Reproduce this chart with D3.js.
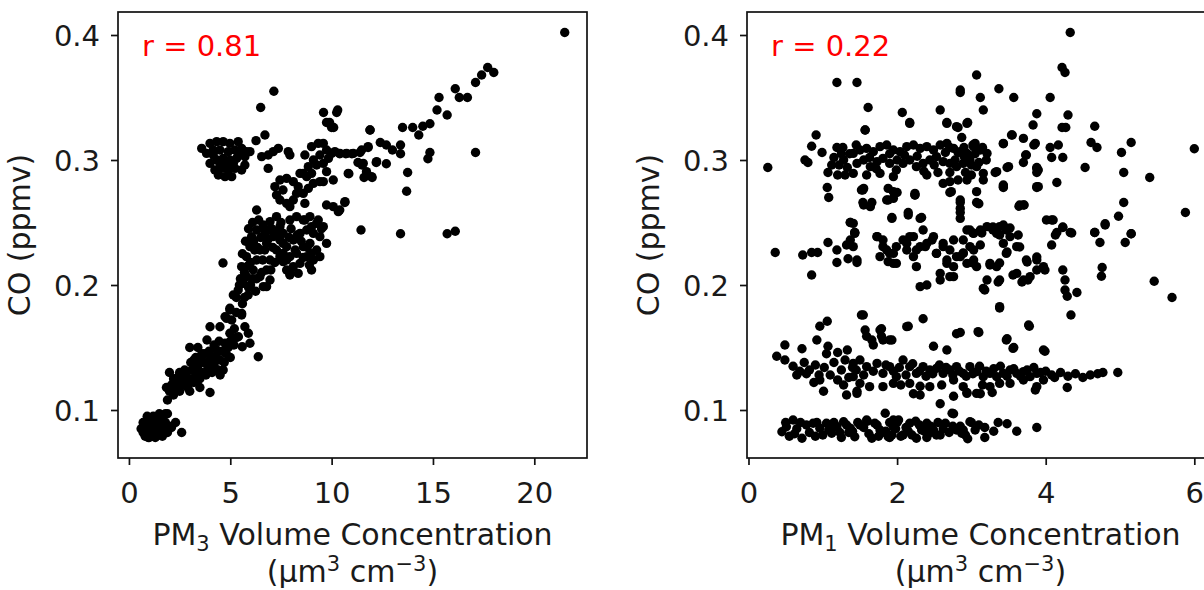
<!DOCTYPE html>
<html><head><meta charset="utf-8">
<script src="https://cdn.jsdelivr.net/npm/d3@7"></script>
<style>
html,body{margin:0;padding:0;background:#fff;}
svg{display:block;font-family:"DejaVu Sans",sans-serif;}
</style></head>
<body><svg id="c" width="1204" height="590"></svg>
<script>
// ---- data ----
const yTicks = [0.1, 0.2, 0.3, 0.4];
const xTicksLeft = [0, 5, 10, 15, 20];
const xTicksRight = [0, 2, 4, 6];
const rLabels = ["r = 0.81", "r = 0.22"];
const yTitle = "CO (ppmv)";
const xTitleLeft = ["PM", "3", " Volume Concentration"];
const xTitleRight = ["PM", "1", " Volume Concentration"];

// [PM3 volume, CO]
const leftPoints = [
[0.6,0.085],[0.7,0.082],[0.75,0.088],[0.8,0.079],[0.85,0.084],[0.9,0.09],[0.95,0.078],[1.0,0.086],[1.05,0.081],[1.1,0.092],[1.15,0.08],[1.2,0.087],[1.25,0.083],[1.3,0.078],[1.35,0.09],[1.4,0.085],[1.45,0.08],[1.5,0.094],[1.55,0.082],[1.6,0.088],[1.65,0.079],[1.7,0.096],[1.75,0.084],[1.8,0.09],[1.9,0.082],[2.0,0.087],[0.9,0.095],[1.2,0.095],[1.0,0.078],[0.7,0.09],[1.3,0.081],[1.6,0.083],[2.1,0.086],[2.3,0.09],[2.6,0.082],[1.8,0.097],[1.5,0.097],[1.9,0.097],
[1.9,0.108],[2.0,0.115],[2.1,0.12],[2.2,0.112],[2.3,0.118],[2.4,0.122],[2.5,0.115],[2.6,0.125],[2.7,0.12],[2.8,0.128],[2.9,0.118],[3.0,0.125],[3.1,0.132],[3.2,0.122],[3.3,0.128],[3.4,0.135],[3.5,0.125],[3.6,0.13],[3.7,0.138],[3.8,0.128],[3.9,0.134],[4.0,0.14],[4.1,0.13],[4.2,0.136],[4.3,0.143],[4.4,0.132],[4.5,0.14],[4.6,0.147],[4.7,0.138],[4.8,0.145],[4.9,0.15],[5.0,0.142],[3.0,0.115],[3.5,0.118],[4.0,0.114],[4.5,0.128],[2.5,0.13],[3.2,0.14],[3.6,0.145],[2.0,0.13],[3.0,0.15],[3.4,0.15],[3.85,0.156],
[2.2,0.125],[2.45,0.127],[2.75,0.132],[3.05,0.138],[3.3,0.142],[3.55,0.138],[3.75,0.145],[3.95,0.147],[4.2,0.152],[4.45,0.155],[2.85,0.122],[3.45,0.129],[4.15,0.142],[4.65,0.132],[1.85,0.118],
[4.0,0.1666],[4.49,0.1666],[4.74,0.1746],[4.98,0.1814],[5.07,0.172],[5.4,0.1586],[5.56,0.176],[5.72,0.1666],[5.89,0.1614],[5.97,0.1534],[6.38,0.1426],[4.98,0.1614],[4.74,0.1534],[4.33,0.148],[5.18,0.152],[5.59,0.1506],
[5.2,0.165],[5.3,0.178],[5.6,0.185],[5.3,0.158],[5.0,0.155],
[5.39,0.196],[5.64,0.2013],[5.8,0.2067],[5.56,0.2147],[5.8,0.2227],[5.97,0.2307],[6.05,0.2387],[6.3,0.244],[6.63,0.248],[6.96,0.2507],[7.28,0.2547],[7.45,0.2467],[7.12,0.2387],[6.79,0.2333],[6.46,0.228],[6.3,0.22],[6.13,0.212],[6.46,0.2067],[6.79,0.212],[6.96,0.22],[7.28,0.228],[7.45,0.236],[7.61,0.2413],[6.96,0.204],[6.63,0.1987],[5.88,0.192],[5.15,0.192],[4.98,0.18],[5.56,0.1773],[4.82,0.1733],[7.61,0.2333],[7.78,0.22],[7.94,0.2093],[7.61,0.2253],[6.79,0.1987],[4.64,0.2176],
[5.7,0.21],[6.0,0.2],[6.2,0.228],[6.5,0.238],[6.0,0.218],[6.3,0.205],[5.9,0.198],[6.6,0.22],[6.9,0.244],[7.1,0.23],[5.5,0.205],[5.3,0.19],[6.7,0.24],[7.0,0.212],
[5.6,0.225],[5.75,0.235],[5.9,0.245],[6.1,0.25],[6.4,0.252],[6.15,0.235],[6.35,0.23],[5.85,0.215],[6.1,0.205],[6.25,0.195],[5.45,0.2],[5.7,0.19],[6.55,0.21],[6.7,0.228],[6.85,0.236],[7.05,0.245],[7.2,0.218],[7.35,0.242],[6.6,0.245],[7.5,0.25],
[7.94,0.252],[8.27,0.2547],[8.6,0.252],[8.93,0.2547],[9.26,0.2493],[9.59,0.2467],[9.75,0.2333],[9.42,0.2387],[9.1,0.2413],[8.77,0.244],[8.44,0.2413],[8.11,0.236],[7.78,0.2307],[7.94,0.2227],[8.27,0.2253],[8.6,0.2307],[8.93,0.2333],[9.26,0.228],[9.42,0.2227],[9.1,0.22],[8.77,0.2227],[8.44,0.2173],[8.11,0.2147],[7.78,0.212],[7.94,0.208],[7.61,0.2187],[7.45,0.2227],[9.01,0.212],[8.35,0.2093],[8.68,0.252],[9.34,0.252],[9.01,0.2467],
[8.0,0.245],[8.3,0.24],[8.5,0.235],[8.8,0.23],[9.0,0.225],[9.5,0.245],[8.2,0.228],[8.6,0.222],[8.9,0.216],[7.9,0.238],
[7.2,0.2787],[7.45,0.284],[7.78,0.2853],[8.11,0.2827],[8.35,0.2787],[8.27,0.2733],[8.11,0.268],[7.78,0.2653],[7.45,0.268],[7.28,0.272],[8.6,0.2733],[8.85,0.2773],[9.1,0.2813],[8.77,0.2867],[8.44,0.2893],[7.94,0.2627],[8.68,0.2653],[9.42,0.2827],[6.3,0.26],[7.6,0.276],
[8.68,0.304],[9.01,0.3107],[9.34,0.3133],[9.59,0.3133],[9.75,0.308],[9.42,0.304],[9.1,0.3],[8.85,0.2947],[8.6,0.2893],[9.01,0.2893],[9.26,0.296],[9.59,0.2973],[9.84,0.3013],[10.0,0.3053],[10.16,0.3067],[10.41,0.3053],[10.74,0.3053],[11.07,0.3053],[9.75,0.2907],[9.59,0.2827],[10.08,0.284],
[11.89,0.324],[11.48,0.308],[11.8,0.3107],[12.22,0.2987],[11.56,0.2973],[11.72,0.2907],[11.97,0.2867],[10.82,0.2893],
[9.75,0.264],[10.08,0.2627],[10.33,0.2587],[10.66,0.2667],
[9.75,0.33],[10.0,0.326],[10.25,0.338],[7.15,0.355],[6.5,0.342],[9.6,0.338],[10.3,0.34],[9.9,0.33],[10.1,0.326],
[3.59,0.3093],[4.0,0.3133],[4.33,0.3147],[4.65,0.3147],[4.98,0.3133],[5.39,0.3147],[5.8,0.3067],[5.56,0.3093],[5.23,0.308],[4.9,0.3067],[4.49,0.308],[4.16,0.308],[4.0,0.2973],[4.33,0.3],[4.65,0.3013],[4.98,0.3],[5.31,0.3013],[5.72,0.296],[5.56,0.292],[5.23,0.2933],[4.9,0.292],[4.57,0.2933],[4.24,0.292],[4.41,0.288],[4.74,0.2867],[5.07,0.2867],[4.49,0.2973],[4.82,0.296],[5.15,0.2973],[4.16,0.304],[3.83,0.3053],[5.39,0.3053],[5.72,0.3027],[5.97,0.3067],
[6.27,0.3155],[6.71,0.32],[6.55,0.3027],[6.87,0.304],[7.12,0.3067],[7.37,0.3093],[6.87,0.2933],[7.86,0.3067],[7.94,0.304],
[21.5,0.402],[17.7,0.374],[17.4,0.368],[18.0,0.37],[17.1,0.362],[16.1,0.357],[16.3,0.35],[16.7,0.35],[15.3,0.35],[15.2,0.34],[15.7,0.336],[13.5,0.326],[14.0,0.326],[14.5,0.327],[14.85,0.329],[14.3,0.32],[11.9,0.324],[12.4,0.314],[12.7,0.312],[13.0,0.308],[13.4,0.312],[13.4,0.305],[11.4,0.306],[11.8,0.31],[10.4,0.305],[10.7,0.305],[11.0,0.305],[14.85,0.306],[14.75,0.301],[17.1,0.306],[11.3,0.298],[11.5,0.296],[11.6,0.286],[12.0,0.286],[12.2,0.298],[12.7,0.297],[10.85,0.289],[13.75,0.29],[13.7,0.275],[10.65,0.266],[10.4,0.26],[11.45,0.244],[13.4,0.241],[15.7,0.241],[16.1,0.243]
];

// [PM1 volume, CO]
const rightPoints = [
[0.45,0.0826],[0.51,0.0866],[0.6,0.092],[0.72,0.0774],[0.78,0.088],[0.87,0.0894],[0.96,0.0854],[1.05,0.0894],[1.12,0.0814],[1.19,0.0866],[1.28,0.0906],[1.37,0.0854],[1.43,0.0786],[1.5,0.088],[1.59,0.092],[1.66,0.0774],[1.7,0.0894],[1.77,0.084],[1.84,0.0974],[1.88,0.0786],[1.95,0.0866],[2.02,0.092],[2.08,0.08],[2.17,0.0894],[2.26,0.0774],[2.33,0.084],[2.4,0.0894],[2.49,0.084],[2.58,0.08],[2.65,0.0894],[2.74,0.0974],[2.8,0.084],[2.87,0.0814],[2.98,0.0906],
[0.55,0.079],[0.65,0.085],[0.82,0.082],[0.92,0.09],[1.0,0.08],[1.08,0.084],[1.15,0.09],[1.23,0.082],[1.32,0.088],[1.4,0.083],[1.47,0.09],[1.55,0.086],[1.62,0.081],[1.73,0.088],[1.8,0.082],[1.9,0.09],[1.93,0.08],[1.98,0.085],[2.05,0.079],[2.12,0.086],[2.2,0.08],[2.3,0.088],[2.37,0.083],[2.45,0.087],[2.53,0.08],[2.62,0.085],[2.7,0.082],[2.85,0.087],[2.92,0.08],[3.05,0.084],[1.85,0.083],[1.9,0.078],[1.95,0.092],[0.7,0.09],[1.25,0.078],[2.4,0.078],
[0.5,0.09],[0.62,0.081],[0.9,0.079],[1.1,0.088],[1.35,0.082],[1.6,0.091],[1.75,0.079],[2.0,0.09],[2.15,0.083],[2.25,0.091],[2.45,0.082],[2.55,0.09],[2.75,0.087],[2.95,0.077],[3.1,0.088],[3.3,0.083],
[2.89,0.084],[3.0,0.09],[3.18,0.086],[3.18,0.078],[3.36,0.09],[3.48,0.089],[3.61,0.083],[3.88,0.086],
[0.38,0.143],[0.49,0.14],[0.49,0.152],[0.72,0.149],[0.96,0.167],[1.06,0.171],[0.92,0.156],[1.07,0.151],[0.69,0.131],[0.78,0.129],[0.96,0.124],[1.01,0.115],[1.32,0.112],[1.46,0.115],[1.52,0.176],[1.57,0.164],[1.59,0.159],[1.79,0.165],[1.79,0.159],[1.68,0.152],[1.93,0.156],[2.15,0.167],[2.35,0.173],[2.49,0.151],[2.67,0.148],[2.8,0.161],[2.58,0.105],[2.76,0.111],[2.76,0.097],[2.22,0.113],[2.31,0.119],
[1.545,0.176],[1.77,0.164],[1.66,0.156],[1.81,0.156],[1.9,0.156],[2.13,0.1667],[3.09,0.1627],[3.38,0.1827],[3.47,0.156],[3.56,0.1493],[3.77,0.168],[3.97,0.148],
[1.41,0.1373],[1.5,0.14],[1.59,0.1347],[1.73,0.1373],[1.81,0.1293],[1.9,0.1347],[1.99,0.1267],[2.08,0.14],[2.17,0.1347],[2.26,0.1293],[2.35,0.1347],[2.44,0.132],[2.53,0.1333],[2.62,0.1293],[2.71,0.132],[2.8,0.1347],[2.89,0.1293],[2.98,0.1347],[3.07,0.1307],[3.16,0.1267],[3.25,0.1293],[3.34,0.1267],[3.43,0.1293],[3.52,0.132],[3.61,0.1293],[3.7,0.1307],[3.79,0.1267],[3.88,0.1293],[3.97,0.124],
[1.45,0.132],[1.55,0.128],[1.68,0.131],[1.85,0.136],[1.95,0.131],[2.03,0.134],[2.12,0.128],[2.21,0.137],[2.3,0.131],[2.39,0.127],[2.48,0.129],[2.57,0.136],[2.66,0.134],[2.75,0.128],[2.84,0.131],[2.93,0.127],[3.02,0.129],[3.11,0.135],[3.2,0.131],[3.3,0.133],[3.39,0.135],[3.48,0.127],[3.57,0.133],[3.66,0.127],[3.75,0.132],[3.84,0.134],[3.93,0.13],[2.05,0.12],[2.6,0.12],[3.15,0.12],
[1.5,0.1213],[1.63,0.1187],[1.81,0.1187],[1.95,0.1213],[2.17,0.1213],[2.31,0.112],[2.44,0.1187],[2.89,0.1187],[3.07,0.1133],[3.25,0.1187],[3.38,0.1213],[3.52,0.1213],[3.7,0.124],[3.88,0.1187],[1.46,0.1133],[1.41,0.1267],[2.76,0.124],[2.94,0.1133],
[0.75,0.138],[0.82,0.132],[0.9,0.136],[0.95,0.128],[1.02,0.134],[1.1,0.128],[1.15,0.138],[1.2,0.124],[1.25,0.132],[1.3,0.14],[1.35,0.126],[1.4,0.134],[1.28,0.12],[0.88,0.122],[1.05,0.145],[1.2,0.146],[1.33,0.148],[0.6,0.135],[0.65,0.128],
[4.08,0.128],[4.2,0.13],[4.3,0.127],[4.4,0.129],[4.5,0.126],[4.6,0.128],[4.7,0.129],[4.77,0.13],[4.97,0.13],[4.29,0.118],[4.0,0.131],[4.12,0.126],
[2.85,0.162],[3.1,0.162],[3.48,0.157],[3.57,0.15],[3.78,0.167],[3.99,0.147],[2.94,0.114],[3.12,0.113],[3.28,0.114],[3.86,0.116],
[0.36,0.226],[0.73,0.224],[0.85,0.226],[0.93,0.226],[1.07,0.234],[1.19,0.228],[1.32,0.232],[1.37,0.236],[1.43,0.242],[1.37,0.25],[1.19,0.218],[1.34,0.221],[1.46,0.218],[0.85,0.208],
[1.41,0.2493],[1.43,0.2413],[1.41,0.2307],[1.46,0.22],[1.73,0.2387],[1.81,0.2307],[1.77,0.2227],[1.9,0.2253],[1.95,0.2173],[1.99,0.2307],[2.08,0.236],[2.17,0.2387],[2.13,0.228],[2.22,0.2227],[2.26,0.2147],[2.31,0.2307],[2.4,0.2333],[2.35,0.244],[2.49,0.2387],[2.53,0.2253],[2.62,0.2333],[2.71,0.228],[2.67,0.22],[2.76,0.2147],[2.8,0.2227],[2.89,0.2253],[2.89,0.236],[2.98,0.2307],[3.03,0.22],[3.07,0.2147],[2.98,0.244],[3.12,0.244],[3.21,0.2467],[3.29,0.244],[3.38,0.2467],[3.47,0.244],[3.52,0.2387],[3.43,0.2333],[3.34,0.2413],[3.61,0.2307],[3.47,0.2253],[3.25,0.2173],[3.34,0.2147],[3.21,0.204],[3.38,0.204],[3.61,0.2093],[3.7,0.204],[3.79,0.2067],[3.88,0.212],[3.88,0.22],[3.97,0.2147],[3.74,0.22],[2.58,0.2093],[2.58,0.204],[2.71,0.2067],[2.31,0.1987],[2.4,0.2],[3.16,0.1973],[3.7,0.264],[3.65,0.264],[4.01,0.252],
[1.52,0.276],[1.55,0.264],[1.64,0.2627],[1.86,0.268],[1.95,0.2747],[2.24,0.272],[2.15,0.256],[2.31,0.2533],[1.93,0.2533],[2.85,0.268],[2.85,0.2613],[2.85,0.2533],[3.07,0.2747],[3.09,0.2653],[3.43,0.2787],[3.9,0.2787],[3.9,0.292],
[2.94,0.244],[3.02,0.2416],[3.14,0.2416],[3.29,0.2464],[3.43,0.248],[3.52,0.2456],[3.63,0.24],[3.38,0.24],[3.48,0.2264],[3.65,0.2304],[2.89,0.2256],[3.02,0.2176],[3.12,0.232],[3.25,0.216],[3.38,0.2176],[3.56,0.208],[3.68,0.2024],[3.76,0.204],[3.75,0.2184],[3.88,0.2224],[3.99,0.212],[3.36,0.2024],[3.18,0.196],[3.38,0.1816],
[4.08,0.232],[4.13,0.24],[4.23,0.2464],[4.35,0.2416],[4.08,0.252],
[4.23,0.212],[4.26,0.204],[4.26,0.196],[4.29,0.191],[4.42,0.194],[4.34,0.176],[4.66,0.242],[4.73,0.234],[4.8,0.248],[4.76,0.214],[4.75,0.207],[5.07,0.234],[5.15,0.241],[5.46,0.203],[5.7,0.19],
[1.73,0.2387],[1.81,0.236],[1.86,0.228],[1.95,0.2253],[1.99,0.2173],[1.88,0.2187],[2.13,0.2333],[2.22,0.2387],[2.26,0.228],[2.38,0.2307],[2.47,0.236],[2.53,0.2253],[2.62,0.2307],[2.76,0.236],[2.85,0.2227],[2.94,0.2173],[3.03,0.228],[3.03,0.2413],[2.67,0.2173],[2.76,0.2067],
[1.41,0.3053],[1.5,0.308],[1.59,0.3093],[1.68,0.3067],[1.77,0.3107],[1.86,0.312],[1.95,0.308],[2.04,0.3067],[2.13,0.3107],[2.22,0.312],[2.31,0.3093],[2.4,0.3107],[2.49,0.308],[2.58,0.312],[2.67,0.3133],[2.76,0.3093],[2.85,0.3067],[2.94,0.3053],[3.03,0.3107],[3.12,0.308],[3.21,0.3053],
[1.46,0.2973],[1.55,0.3],[1.64,0.2947],[1.73,0.2987],[1.81,0.3013],[1.9,0.2973],[1.99,0.292],[2.08,0.2973],[2.17,0.3],[2.26,0.2947],[2.35,0.2973],[2.44,0.3],[2.53,0.3027],[2.62,0.2987],[2.71,0.2973],[2.8,0.2947],[2.89,0.2973],[2.98,0.3],[3.07,0.2947],[3.16,0.2893],
[1.45,0.312],[1.63,0.302],[1.72,0.293],[1.9,0.305],[2.0,0.3],[2.1,0.304],[2.27,0.303],[2.36,0.291],[2.5,0.296],[2.55,0.29],[2.65,0.306],[2.78,0.3],[2.9,0.303],
[1.41,0.2893],[1.59,0.288],[1.77,0.2893],[1.95,0.2867],[2.4,0.288],[2.62,0.2813],[2.71,0.2827],[2.94,0.284],[3.16,0.284],
[2.17,0.3293],[2.67,0.3293],[2.8,0.3267],[2.94,0.3293],[1.57,0.324],[3.05,0.3133],[3.34,0.2907],[3.43,0.3133],[3.5,0.2947],[3.54,0.32],[3.74,0.304],[3.86,0.3133],[3.88,0.2933],[3.88,0.2787],[3.7,0.3173],[3.43,0.28],[2.73,0.2747],[2.24,0.2733],[1.95,0.2693],[1.88,0.2773],[1.55,0.2773],
[0.26,0.294],[0.76,0.3],[0.8,0.298],[0.85,0.311],[0.99,0.306],[0.91,0.32],[1.07,0.29],[1.06,0.278],[1.08,0.27],[1.19,0.362],[1.46,0.362],[1.61,0.342],[1.57,0.324],[1.19,0.31],[1.27,0.31],[1.54,0.276],[1.54,0.266],[1.66,0.266],[1.37,0.25],[1.43,0.242],[1.88,0.268],[2.0,0.274],[2.24,0.272],[2.07,0.338],[2.17,0.33],[1.93,0.254],[2.33,0.254],[2.15,0.258],[2.58,0.34],[2.67,0.33],[2.82,0.326],[2.95,0.33],[2.85,0.354],[3.07,0.368],[2.71,0.31],[2.82,0.306],[3.02,0.312],[2.71,0.29],[2.82,0.284],[2.71,0.274],[2.85,0.266],[2.85,0.258],
[1.15,0.302],[1.22,0.296],[1.28,0.3],[1.33,0.294],[1.36,0.305],[1.3,0.288],[1.2,0.288],[1.12,0.296],[1.25,0.305],
[4.33,0.402],[4.22,0.374],[4.26,0.37],[2.85,0.356],[3.12,0.35],[3.16,0.34],[3.37,0.357],[3.57,0.35],[4.06,0.35],[3.88,0.337],[3.83,0.328],[4.3,0.336],[4.22,0.326],[4.27,0.326],[4.66,0.327],[3.55,0.32],[3.43,0.313],[3.84,0.312],[4.06,0.31],[4.17,0.312],[4.08,0.302],[4.23,0.302],[3.73,0.304],[3.7,0.298],[3.88,0.294],[3.88,0.29],[3.88,0.278],[3.48,0.294],[3.43,0.278],[3.32,0.29],[4.15,0.282],[4.53,0.294],[4.61,0.314],[4.69,0.31],[5.02,0.306],[5.15,0.314],[5.05,0.29],[5.4,0.286],[6.0,0.309],[5.05,0.266],[4.98,0.255],[4.8,0.249],[4.66,0.242],[5.15,0.241],[5.88,0.258],[3.07,0.266],[3.1,0.265],[3.64,0.263],[3.71,0.264],[4.1,0.252],[4.23,0.246],[4.33,0.242],[4.15,0.242],
[2.87,0.318],[2.9,0.31],[2.95,0.302],[3.0,0.296],[3.05,0.305],[3.1,0.298],[3.15,0.31],[3.2,0.3],[3.0,0.288],[2.92,0.29]
];

// ---- layout ----
const svg = d3.select("#c");
const FS = 29;
const TFS = 30;
const textColor = "#1a1a1a";
const panels = [
  {pts: leftPoints, xDom: [-0.54, 22.6], ticks: xTicksLeft, x0: 118, x1: 587, r: rLabels[0], title: xTitleLeft},
  {pts: rightPoints, xDom: [-0.02, 6.265], ticks: xTicksRight, x0: 747, x1: 1214, r: rLabels[1], title: xTitleRight}
];
const yTop = 12, yBot = 458;

panels.forEach(p => {
  const x = d3.scaleLinear().domain(p.xDom).range([p.x0, p.x1]);
  const y = d3.scaleLinear().domain([0.0616, 0.4184]).range([yBot, yTop]);
  const g = svg.append("g");

  const clipId = "clip" + p.x0;
  svg.append("clipPath").attr("id", clipId).append("rect")
    .attr("x", p.x0).attr("y", yTop).attr("width", p.x1 - p.x0).attr("height", yBot - yTop);

  g.append("g").attr("clip-path", `url(#${clipId})`).selectAll("circle").data(p.pts).join("circle")
    .attr("cx", d => x(d[0])).attr("cy", d => y(d[1])).attr("r", 4.7).attr("fill", "#000");

  // frame
  g.append("rect").attr("x", p.x0).attr("y", yTop).attr("width", p.x1 - p.x0).attr("height", yBot - yTop)
    .attr("fill", "none").attr("stroke", "#111").attr("stroke-width", 1.7);

  // axes
  const xa = g.append("g").attr("transform", `translate(0,${yBot})`)
    .call(d3.axisBottom(x).tickValues(p.ticks).tickFormat(d3.format("d")).tickSize(7).tickSizeOuter(0).tickPadding(6));
  const ya = g.append("g").attr("transform", `translate(${p.x0},0)`)
    .call(d3.axisLeft(y).tickValues(yTicks).tickFormat(d3.format(".1f")).tickSize(7).tickSizeOuter(0).tickPadding(11));
  [xa, ya].forEach(a => {
    a.select(".domain").remove();
    a.selectAll(".tick line").attr("stroke", "#111").attr("stroke-width", 1.7);
    a.selectAll(".tick text").attr("font-size", FS).attr("fill", textColor).attr("font-family", "DejaVu Sans");
  });
  xa.selectAll(".tick text").attr("dy", null).attr("y", 0).attr("dominant-baseline", "auto")
    .attr("transform", "translate(0,45)");
  ya.selectAll(".tick text").attr("dy", "0.36em");

  // r label
  g.append("text").attr("x", p.x0 + 24).attr("y", 56).attr("font-size", FS).attr("fill", "#f00").text(p.r);

  // y title
  g.append("text").attr("transform", `translate(${p.x0 - 88},${(yTop + yBot) / 2}) rotate(-90)`)
    .attr("text-anchor", "middle").attr("font-size", TFS).attr("fill", textColor).text(yTitle);

  // x title
  const cx = (p.x0 + p.x1) / 2;
  const t1 = g.append("text").attr("x", cx).attr("y", 545).attr("text-anchor", "middle")
    .attr("font-size", TFS).attr("fill", textColor);
  t1.append("tspan").text(p.title[0]);
  t1.append("tspan").attr("font-size", TFS * 0.7).attr("dy", 6).text(p.title[1]);
  t1.append("tspan").attr("dy", -6).text(p.title[2]);

  const t2 = g.append("text").attr("x", cx).attr("y", 582).attr("text-anchor", "middle")
    .attr("font-size", TFS).attr("fill", textColor);
  t2.append("tspan").text("(µm");
  t2.append("tspan").attr("font-size", TFS * 0.7).attr("dy", -11).text("3");
  t2.append("tspan").attr("dy", 11).text(" cm");
  t2.append("tspan").attr("font-size", TFS * 0.7).attr("dy", -11).text("−3");
  t2.append("tspan").attr("dy", 11).text(")");
});
</script>
</body></html>
